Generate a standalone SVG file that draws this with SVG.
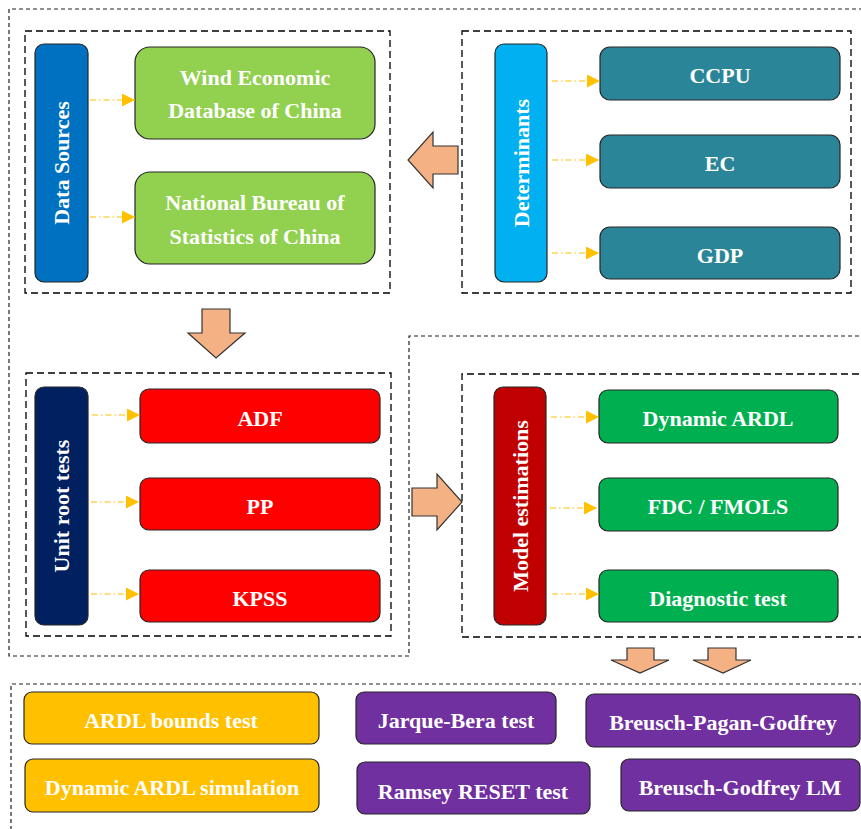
<svg xmlns="http://www.w3.org/2000/svg" width="861" height="829" viewBox="0 0 861 829">
<defs>
<marker id="ah" markerUnits="userSpaceOnUse" markerWidth="13" markerHeight="13" refX="13" refY="6.5" orient="auto">
<path d="M0,0 L13,6.5 L0,13 z" fill="#FFC000"/>
</marker>
<style>
.outer{fill:none;stroke:#222;stroke-width:1.2;stroke-dasharray:4 3}
.inner{fill:none;stroke:#000;stroke-width:1.3;stroke-dasharray:7 4}
.box{stroke:#262626;stroke-width:1.2}
.t{font-family:"Liberation Serif","Times New Roman",serif;font-weight:bold;font-size:22px;fill:#fff;text-anchor:middle}
.c{fill:none;stroke:#FFC000;stroke-width:1.2;stroke-dasharray:6 3 1.5 3;marker-end:url(#ah)}
.big{fill:#F4B183;stroke:#333;stroke-width:1.2}
</style>
</defs>
<rect width="861" height="829" fill="#fff"/>
<!-- frames -->
<g id="frames">
<path class="outer" d="M870,9 H9 V656 H409 V336 H870"/>
<rect class="inner" x="25" y="31" width="365" height="262"/>
<rect class="inner" x="462" y="31" width="389" height="262"/>
<rect class="inner" x="26" y="373" width="365" height="263"/>
<path class="inner" d="M870,374 H462 V637 H870"/>
<path class="outer" d="M870,684 H11 V840"/>
</g>
<!-- Data sources -->
<g id="data-sources">
<rect class="box" x="35" y="44" width="53" height="238" rx="9" fill="#0070C0"/>
<text class="t" transform="translate(69,163) rotate(-90)">Data Sources</text>
</g>
<g id="wind">
<rect class="box" x="135" y="47" width="240" height="92" rx="15" fill="#92D050"/>
<text class="t" x="255" y="85">Wind Economic</text>
<text class="t" x="255" y="118">Database of China</text>
</g>
<g id="nbs">
<rect class="box" x="135" y="172" width="240" height="92" rx="15" fill="#92D050"/>
<text class="t" x="255" y="210">National Bureau of</text>
<text class="t" x="255" y="244">Statistics of China</text>
</g>
<!-- Determinants -->
<g id="determinants">
<rect class="box" x="495" y="44" width="52" height="238" rx="9" fill="#00B0F0"/>
<text class="t" transform="translate(529,163) rotate(-90)">Determinants</text>
</g>
<g id="ccpu">
<rect class="box" x="600" y="47" width="240" height="53" rx="10" fill="#2B8599"/>
<text class="t" x="720" y="83">CCPU</text>
</g>
<g id="ec">
<rect class="box" x="600" y="135" width="240" height="53" rx="10" fill="#2B8599"/>
<text class="t" x="720" y="171">EC</text>
</g>
<g id="gdp">
<rect class="box" x="600" y="227" width="240" height="52" rx="10" fill="#2B8599"/>
<text class="t" x="720" y="263">GDP</text>
</g>
<!-- Unit root -->
<g id="unit-root">
<rect class="box" x="35" y="387" width="53" height="238" rx="9" fill="#002060"/>
<text class="t" transform="translate(69,506) rotate(-90)">Unit root tests</text>
</g>
<g id="adf">
<rect class="box" x="140" y="389" width="240" height="54" rx="9" fill="#FF0000"/>
<text class="t" x="260" y="426">ADF</text>
</g>
<g id="pp">
<rect class="box" x="140" y="478" width="240" height="52" rx="9" fill="#FF0000"/>
<text class="t" x="260" y="514">PP</text>
</g>
<g id="kpss">
<rect class="box" x="140" y="570" width="240" height="52" rx="9" fill="#FF0000"/>
<text class="t" x="260" y="606">KPSS</text>
</g>
<!-- Model estimations -->
<g id="model">
<rect class="box" x="494" y="387" width="52" height="238" rx="9" fill="#C00000"/>
<text class="t" transform="translate(528,506) rotate(-90)">Model estimations</text>
</g>
<g id="dardl">
<rect class="box" x="599" y="390" width="239" height="53" rx="9" fill="#00B050"/>
<text class="t" x="718" y="426">Dynamic ARDL</text>
</g>
<g id="fdc">
<rect class="box" x="599" y="478" width="239" height="53" rx="9" fill="#00B050"/>
<text class="t" x="718" y="514">FDC / FMOLS</text>
</g>
<g id="diag">
<rect class="box" x="599" y="570" width="239" height="52" rx="9" fill="#00B050"/>
<text class="t" x="718" y="606">Diagnostic test</text>
</g>
<!-- bottom -->
<g id="bounds">
<rect class="box" x="24" y="692" width="295" height="52" rx="8" fill="#FFC000"/>
<text class="t" x="171" y="728">ARDL bounds test</text>
</g>
<g id="dsim">
<rect class="box" x="25" y="759" width="294" height="53" rx="8" fill="#FFC000"/>
<text class="t" x="172" y="795">Dynamic ARDL simulation</text>
</g>
<g id="jb">
<rect class="box" x="356" y="692" width="200" height="52" rx="8" fill="#7030A0"/>
<text class="t" x="456" y="728">Jarque-Bera test</text>
</g>
<g id="bpg">
<rect class="box" x="586" y="694" width="274" height="53" rx="8" fill="#7030A0"/>
<text class="t" x="723" y="730">Breusch-Pagan-Godfrey</text>
</g>
<g id="reset">
<rect class="box" x="357" y="762" width="233" height="52" rx="8" fill="#7030A0"/>
<text class="t" x="473" y="799">Ramsey RESET test</text>
</g>
<g id="bglm">
<rect class="box" x="621" y="759" width="239" height="52" rx="8" fill="#7030A0"/>
<text class="t" x="740" y="795">Breusch-Godfrey LM</text>
</g>
<!-- connectors -->
<g id="connectors">
<line class="c" x1="90" y1="100" x2="135" y2="100"/>
<line class="c" x1="90" y1="217" x2="135" y2="217"/>
<line class="c" x1="552" y1="81" x2="600" y2="81"/>
<line class="c" x1="552" y1="160" x2="599" y2="160"/>
<line class="c" x1="552" y1="253" x2="599" y2="253"/>
<line class="c" x1="92" y1="415" x2="140" y2="415"/>
<line class="c" x1="91" y1="502" x2="139" y2="502"/>
<line class="c" x1="91" y1="594" x2="139" y2="594"/>
<line class="c" x1="551" y1="417" x2="599" y2="417"/>
<line class="c" x1="550" y1="508" x2="597" y2="508"/>
<line class="c" x1="552" y1="594" x2="599" y2="594"/>
<path class="big" d="M458,146 H433 V132 L408,160 L433,188 V174 H458 Z"/>
<path class="big" d="M202,309 H230 V333 H245 L216,358 L188,333 H202 Z"/>
<path class="big" d="M412,488 H437 V474 L462,502 L437,530 V516 H412 Z"/>
<path class="big" d="M627,648 H654 V660 H669 L640,673 L611,660 H627 Z"/>
<path class="big" d="M708,648 H736 V660 H751 L723,673 L693,660 H708 Z"/>
</g>
</svg>
